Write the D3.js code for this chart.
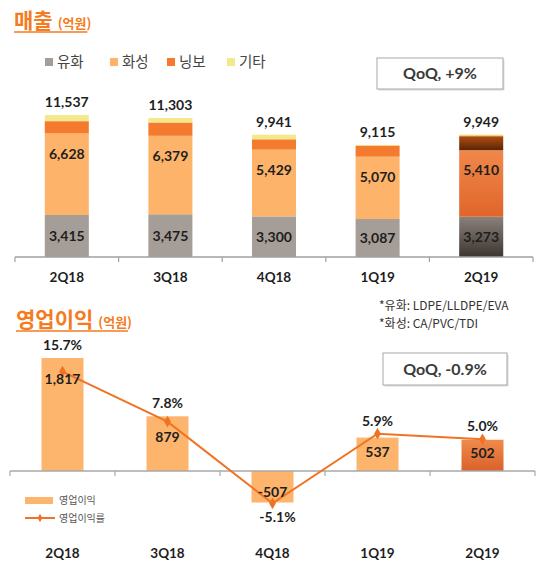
<!DOCTYPE html>
<html>
<head>
<meta charset="utf-8">
<script src="https://cdn.jsdelivr.net/npm/d3@7"></script>
<style>
  body { margin: 0; background: #fff; }
  svg { display: block; font-family: Lato, "Noto Sans CJK KR", sans-serif; }
</style>
</head>
<body>
<svg id="chart" width="550" height="588"></svg>
<script>
// data
const quarters = ['2Q18', '3Q18', '4Q18', '1Q19', '2Q19'];
const segNames = ['유화', '화성', '닝보', '기타'];
const yuhwa  = [3415, 3475, 3300, 3087, 3273];
const hwasung = [6628, 6379, 5429, 5070, 5410];
const ningbo = [1000, 1080, 840, 900, 1140];
const gita   = [494, 369, 372, 58, 126];
const totals = [11537, 11303, 9941, 9115, 9949];
const opProfit = [1817, 879, -507, 537, 502];
const opMargin = [15.7, 7.8, -5.1, 5.9, 5.0];
const notes = ['*유화: LDPE/LLDPE/EVA', '*화성: CA/PVC/TDI'];
const qoqSales = 'QoQ, +9%';
const qoqOp = 'QoQ, -0.9%';

const svg = d3.select('#chart');
const fmt = v => d3.format(',')(v).replace('\u2212', '-');
const segColors = ['#A59D97', '#FDB46A', '#F47A2E', '#F3E88A'];
const orange = '#F47B20';
const ink = '#1e1e1e';

// gradients for the highlighted quarter
const defs = svg.append('defs');
function grad(id, c1, c2) {
  const g = defs.append('linearGradient').attr('id', id).attr('x1', 0).attr('y1', 0).attr('x2', 0).attr('y2', 1);
  g.append('stop').attr('offset', '0%').attr('stop-color', c1);
  g.append('stop').attr('offset', '100%').attr('stop-color', c2);
}
grad('hl0', '#8a817b', '#3d3530');
grad('hl1', '#F08849', '#E0652B');
grad('hl2', '#B04E12', '#5a2507');
grad('hl3', '#F8E08A', '#F1C865');
grad('hlop', '#F08A4C', '#D9622A');

function title(x, y, main, sub) {
  const t = svg.append('text').attr('x', x).attr('y', y).attr('fill', orange)
    .attr('font-family', '"Noto Sans CJK KR", sans-serif').attr('font-weight', 700);
  t.append('tspan').attr('font-size', 21).text(main);
  t.append('tspan').attr('font-size', 13).attr('dx', 5).text(sub);
  const w = t.node().getComputedTextLength();
  svg.append('line').attr('x1', x).attr('x2', x + w + 1).attr('y1', y + 4).attr('y2', y + 4)
    .attr('stroke', orange).attr('stroke-width', 1.5);
}

function qoqBox(x, y, w, h, label) {
  svg.append('rect').attr('x', x + 1.5).attr('y', y + 1.5).attr('width', w).attr('height', h).attr('fill', '#ddd');
  svg.append('rect').attr('x', x).attr('y', y).attr('width', w).attr('height', h)
    .attr('fill', '#fff').attr('stroke', '#a8a8a8').attr('stroke-width', 1);
  svg.append('text').attr('x', x + w / 2).attr('y', y + h / 2).attr('dy', '0.36em')
    .attr('text-anchor', 'middle').attr('font-size', 16).attr('font-weight', 700).attr('fill', '#3a3a3a')
    .text(label);
}

function bandAxis(x, y0, color) {
  const step = x.step();
  const edges = quarters.map(q => x(q) - x.paddingInner() * step / 2);
  edges.push(edges[edges.length - 1] + step);
  const g = svg.append('g');
  g.append('line').attr('x1', edges[0]).attr('x2', edges[edges.length - 1]).attr('y1', y0).attr('y2', y0)
    .attr('stroke', color).attr('stroke-width', 1.5);
  g.selectAll('line.tk').data(edges).join('line').attr('class', 'tk')
    .attr('x1', d => d).attr('x2', d => d).attr('y1', y0).attr('y2', y0 + 5)
    .attr('stroke', color).attr('stroke-width', 1.2);
}

function qLabels(x, yPos) {
  svg.append('g').selectAll('text').data(quarters).join('text')
    .attr('x', d => x(d) + x.bandwidth() / 2).attr('y', yPos).attr('dy', '0.36em')
    .attr('text-anchor', 'middle').attr('font-size', 13.5).attr('font-weight', 700).attr('fill', ink)
    .text(d => d);
}

// ---------- 매출 ----------
title(14, 28, '매출', '(억원)');

const legX = [45, 110, 167, 227];
const leg = svg.append('g').selectAll('g').data(segNames).join('g')
  .attr('transform', (d, i) => `translate(${legX[i]},62)`);
leg.append('rect').attr('x', 0).attr('y', -4).attr('width', 8).attr('height', 8)
  .attr('fill', (d, i) => segColors[i]);
leg.append('text').attr('x', 12).attr('y', 0).attr('dy', '0.36em').attr('font-size', 14.5)
  .attr('font-family', '"Noto Sans CJK KR", sans-serif').attr('fill', '#444').text(d => d);

qoqBox(377, 58, 126, 31, qoqSales);

const x1 = d3.scaleBand().domain(quarters).range([15, 533]).paddingInner(0.575).paddingOuter(0.2875);
const y1 = d3.scaleLinear().domain([0, 12000]).range([257, 109.4]);

const stacked = d3.stack().keys([0, 1, 2, 3]).value((d, k) => d[k])(
  quarters.map((q, i) => [yuhwa[i], hwasung[i], ningbo[i], gita[i]]));

stacked.forEach((layer, k) => {
  svg.append('g').selectAll('rect').data(layer).join('rect')
    .attr('x', (d, i) => x1(quarters[i]))
    .attr('width', x1.bandwidth())
    .attr('y', d => y1(d[1]))
    .attr('height', d => y1(d[0]) - y1(d[1]))
    .attr('fill', (d, i) => i === quarters.length - 1 ? `url(#hl${k})` : segColors[k]);
});

bandAxis(x1, 257, '#a0a0a0');

const cx1 = q => x1(q) + x1.bandwidth() / 2;
// 유화 labels: centred
svg.append('g').selectAll('text').data(stacked[0]).join('text')
  .attr('x', (d, i) => cx1(quarters[i])).attr('y', d => (y1(d[0]) + y1(d[1])) / 2).attr('dy', '0.36em')
  .attr('text-anchor', 'middle').attr('font-size', 14).attr('font-weight', 700).attr('fill', ink)
  .text((d, i) => fmt(yuhwa[i]));
// 화성 labels: near top of the segment
svg.append('g').selectAll('text').data(stacked[1]).join('text')
  .attr('x', (d, i) => cx1(quarters[i])).attr('y', d => y1(d[1]) + 20).attr('dy', '0.36em')
  .attr('text-anchor', 'middle').attr('font-size', 14).attr('font-weight', 700).attr('fill', ink)
  .text((d, i) => fmt(hwasung[i]));
// totals
svg.append('g').selectAll('text').data(totals).join('text')
  .attr('x', (d, i) => cx1(quarters[i])).attr('y', d => y1(d) - 13).attr('dy', '0.36em')
  .attr('text-anchor', 'middle').attr('font-size', 14).attr('font-weight', 700).attr('fill', ink)
  .text(d => fmt(d));

qLabels(x1, 277);

svg.append('g').selectAll('text').data(notes).join('text')
  .attr('x', 379).attr('y', (d, i) => 306 + i * 17.5).attr('dy', '0.36em')
  .attr('font-size', 12).attr('fill', '#333')
  .attr('font-family', '"Noto Sans CJK KR", sans-serif').text(d => d);

// ---------- 영업이익 ----------
title(16, 327, '영업이익', '(억원)');
qoqBox(383, 353, 124, 32, qoqOp);

const x2 = d3.scaleBand().domain(quarters).range([10, 535]).paddingInner(0.6).paddingOuter(0.3);
const y2 = d3.scaleLinear().domain([-600, 2000]).range([508.3, 346.6]);
const yp = d3.scaleLinear().domain([-6, 16]).range([509, 369.7]);
const cx2 = q => x2(q) + x2.bandwidth() / 2;

svg.append('g').selectAll('rect').data(opProfit).join('rect')
  .attr('x', (d, i) => x2(quarters[i]))
  .attr('width', x2.bandwidth())
  .attr('y', d => y2(Math.max(0, d)))
  .attr('height', d => Math.abs(y2(d) - y2(0)))
  .attr('fill', (d, i) => i === quarters.length - 1 ? 'url(#hlop)' : '#FDB46C');

bandAxis(x2, y2(0), '#a8a8a8');

const line = d3.line().x((d, i) => cx2(quarters[i])).y(d => yp(d));
svg.append('path').attr('d', line(opMargin)).attr('fill', 'none')
  .attr('stroke', '#F07324').attr('stroke-width', 2);
svg.append('g').selectAll('path').data(opMargin).join('path')
  .attr('d', d3.symbol(d3.symbolDiamond, 40))
  .attr('transform', (d, i) => `translate(${cx2(quarters[i])},${yp(d)})`)
  .attr('fill', '#F07324');

// bar value labels
svg.append('g').selectAll('text').data(opProfit).join('text')
  .attr('x', (d, i) => cx2(quarters[i]))
  .attr('y', d => {
    const h = Math.abs(y2(d) - y2(0));
    const off = Math.min(21, h / 2 - 2);
    return d >= 0 ? y2(d) + off : y2(d) - off + 3;
  })
  .attr('dy', '0.36em').attr('text-anchor', 'middle').attr('font-size', 14).attr('font-weight', 700)
  .attr('fill', ink).text(d => fmt(d));

// margin labels
svg.append('g').selectAll('text').data(opMargin).join('text')
  .attr('x', (d, i) => cx2(quarters[i]) + (d < 0 ? 5 : 0))
  .attr('y', (d, i) => d >= 0
    ? Math.min(y2(opProfit[i]), yp(d)) - 13
    : Math.max(y2(opProfit[i]), yp(d)) + 14)
  .attr('dy', '0.36em').attr('text-anchor', 'middle').attr('font-size', 14).attr('font-weight', 700)
  .attr('fill', ink).text(d => d.toFixed(1) + '%');

// legend
const lg = svg.append('g').attr('font-family', '"Noto Sans CJK KR", sans-serif')
  .attr('font-size', 10).attr('fill', '#555');
lg.append('rect').attr('x', 25).attr('y', 497).attr('width', 28).attr('height', 7).attr('fill', '#FDB46C');
lg.append('text').attr('x', 59).attr('y', 500.5).attr('dy', '0.36em').text('영업이익');
lg.append('line').attr('x1', 25).attr('x2', 55).attr('y1', 518).attr('y2', 518)
  .attr('stroke', '#F07324').attr('stroke-width', 2);
lg.append('path').attr('d', d3.symbol(d3.symbolDiamond, 20)).attr('transform', 'translate(40,518)')
  .attr('fill', '#F07324');
lg.append('text').attr('x', 59).attr('y', 518).attr('dy', '0.36em').text('영업이익률');

qLabels(x2, 553);
</script>
</body>
</html>
